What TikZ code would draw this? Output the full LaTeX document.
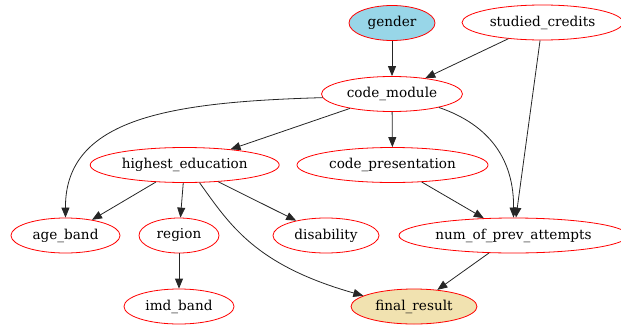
\documentclass[tikz,border=0pt]{standalone}
\usepackage{fontspec}
\setmainfont{DejaVu Serif}
\usetikzlibrary{shapes.geometric,arrows.meta}
\definecolor{gfill}{RGB}{152,214,232}
\definecolor{ffill}{RGB}{241,226,176}
\begin{document}
\begin{tikzpicture}[x=1pt,y=-1pt,
  var/.style={ellipse,draw=red,line width=0.8pt,inner sep=0pt,minimum height=35pt,font=\fontsize{13.6}{16}\selectfont},
  edge/.style={-{Triangle[length=10pt,width=8pt]},line width=0.8pt,black!85}]
\useasboundingbox (0,0) rectangle (621,327);
\node[var,fill=gfill,minimum width=86pt] (g) at (392,23) {gender};
\node[var,minimum width=161pt] (sc) at (542.5,22.5) {studied\_credits};
\node[var,minimum width=141pt] (cm) at (392,94) {code\_module};
\node[var,minimum width=189pt] (he) at (184.7,165) {highest\_education};
\node[var,minimum width=191pt] (cp) at (392.5,165) {code\_presentation};
\node[var,minimum width=109pt] (ab) at (65.5,235.5) {age\_band};
\node[var,minimum width=80pt] (re) at (179,235.5) {region};
\node[var,minimum width=106pt] (di) at (326,235.5) {disability};
\node[var,minimum width=229pt] (np) at (513.5,235.5) {num\_of\_prev\_attempts};
\node[var,minimum width=110pt] (im) at (179,306.5) {imd\_band};
\node[var,fill=ffill,minimum width=126pt] (fr) at (414,306.5) {final\_result};

\draw[edge] (g) -- (cm);
\draw[edge] (sc) -- (cm);
\draw[edge] (sc) -- (np);
\draw[edge] (cm.183) .. controls (170,102) and (65,118) .. (ab.north);
\draw[edge] (cm) -- (he);
\draw[edge] (cm) -- (cp);
\draw[edge] (cm.-16) .. controls (490,125) and (514,160) .. (np.north);
\draw[edge] (he) -- (ab);
\draw[edge] (he) -- (re);
\draw[edge] (he) -- (di);
\draw[edge] (he.-50) .. controls (230,225) and (255,265) .. (fr.168);
\draw[edge] (cp) -- (np);
\draw[edge] (re) -- (im);
\draw[edge] (np) -- (fr);
\end{tikzpicture}
\end{document}
